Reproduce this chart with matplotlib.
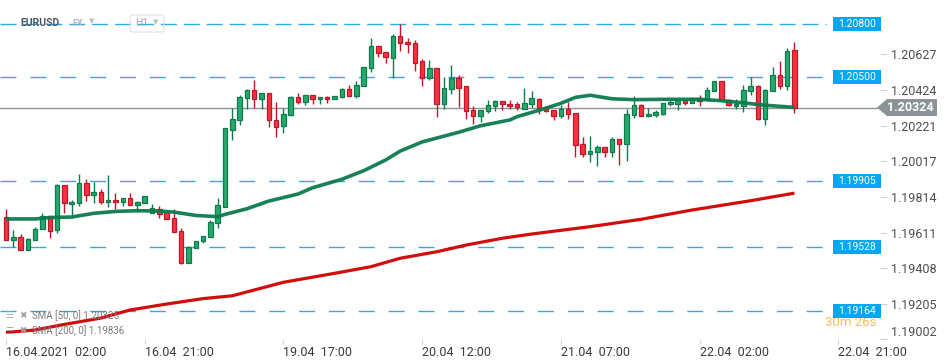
import numpy as np
import matplotlib.pyplot as plt
from matplotlib.patches import Polygon, Rectangle, FancyBboxPatch

plt.rcParams['font.family'] = ['Roboto', 'DejaVu Sans']

# EURUSD H1 candles, first one is 16.04.2021 02:00
opens = [1.19698, 1.19567, 1.19584, 1.19512, 1.19567, 1.19630, 1.19707, 1.19624, 1.19881, 1.19772,
         1.19778, 1.19892, 1.19824, 1.19841, 1.19784, 1.19795, 1.19784, 1.19807, 1.19767, 1.19778,
         1.19721, 1.19744, 1.19727, 1.19693, 1.19618, 1.19436, 1.19522, 1.19561, 1.19584, 1.19664,
         1.19755, 1.20194, 1.20251, 1.20377, 1.20422, 1.20371, 1.20405, 1.20251, 1.20217, 1.20280,
         1.20382, 1.20354, 1.20394, 1.20371, 1.20382, 1.20371, 1.20382, 1.20428, 1.20388, 1.20445,
         1.20548, 1.20673, 1.20639, 1.20605, 1.20730, 1.20696, 1.20690, 1.20588, 1.20491, 1.20548,
         1.20342, 1.20428, 1.20491, 1.20445, 1.20308, 1.20274, 1.20303, 1.20331, 1.20359, 1.20342,
         1.20342, 1.20314, 1.20342, 1.20371, 1.20325, 1.20308, 1.20274, 1.20314, 1.20291, 1.20114,
         1.20057, 1.20069, 1.20097, 1.20069, 1.20143, 1.20114, 1.20280, 1.20337, 1.20274, 1.20280,
         1.20286, 1.20342, 1.20342, 1.20365, 1.20348, 1.20377, 1.20365, 1.20417, 1.20474, 1.20365,
         1.20331, 1.20331, 1.20417, 1.20445, 1.20257, 1.20417, 1.20508, 1.20445, 1.20650]
highs = [1.19746, 1.19626, 1.19601, 1.19579, 1.19641, 1.19721, 1.19707, 1.19888, 1.19881, 1.19797,
         1.19945, 1.19915, 1.19900, 1.19858, 1.19940, 1.19837, 1.19807, 1.19837, 1.19789, 1.19818,
         1.19772, 1.19761, 1.19727, 1.19744, 1.19636, 1.19535, 1.19561, 1.19590, 1.19681, 1.19807,
         1.20206, 1.20320, 1.20394, 1.20428, 1.20479, 1.20405, 1.20405, 1.20354, 1.20320, 1.20388,
         1.20405, 1.20394, 1.20394, 1.20382, 1.20388, 1.20388, 1.20434, 1.20451, 1.20474, 1.20553,
         1.20719, 1.20673, 1.20639, 1.20742, 1.20799, 1.20719, 1.20707, 1.20599, 1.20593, 1.20548,
         1.20496, 1.20565, 1.20508, 1.20445, 1.20331, 1.20308, 1.20365, 1.20365, 1.20359, 1.20365,
         1.20354, 1.20434, 1.20417, 1.20377, 1.20325, 1.20308, 1.20337, 1.20354, 1.20291, 1.20154,
         1.20160, 1.20109, 1.20097, 1.20154, 1.20143, 1.20314, 1.20388, 1.20342, 1.20320, 1.20308,
         1.20348, 1.20365, 1.20365, 1.20365, 1.20377, 1.20394, 1.20439, 1.20474, 1.20474, 1.20371,
         1.20371, 1.20451, 1.20496, 1.20451, 1.20428, 1.20553, 1.20588, 1.20662, 1.20696]
lows = [1.19567, 1.19531, 1.19512, 1.19512, 1.19567, 1.19630, 1.19582, 1.19607, 1.19725, 1.19693,
        1.19765, 1.19793, 1.19778, 1.19772, 1.19755, 1.19747, 1.19761, 1.19767, 1.19727, 1.19778,
        1.19721, 1.19696, 1.19687, 1.19613, 1.19430, 1.19436, 1.19522, 1.19554, 1.19584, 1.19636,
        1.19755, 1.20137, 1.20223, 1.20314, 1.20320, 1.20314, 1.20211, 1.20154, 1.20177, 1.20274,
        1.20342, 1.20337, 1.20342, 1.20342, 1.20348, 1.20371, 1.20377, 1.20388, 1.20377, 1.20445,
        1.20525, 1.20610, 1.20576, 1.20491, 1.20645, 1.20633, 1.20531, 1.20445, 1.20479, 1.20268,
        1.20314, 1.20399, 1.20325, 1.20257, 1.20228, 1.20240, 1.20291, 1.20303, 1.20308, 1.20314,
        1.20308, 1.20314, 1.20320, 1.20286, 1.20297, 1.20251, 1.20263, 1.20257, 1.20040, 1.20040,
        1.20012, 1.19989, 1.20040, 1.20040, 1.19995, 1.20017, 1.20263, 1.20274, 1.20268, 1.20268,
        1.20280, 1.20331, 1.20308, 1.20337, 1.20348, 1.20331, 1.20365, 1.20417, 1.20365, 1.20331,
        1.20314, 1.20297, 1.20394, 1.20251, 1.20223, 1.20417, 1.20428, 1.20422, 1.20291]
closes = [1.19567, 1.19584, 1.19512, 1.19573, 1.19633, 1.19707, 1.19618, 1.19881, 1.19778, 1.19784,
          1.19892, 1.19824, 1.19841, 1.19784, 1.19795, 1.19784, 1.19807, 1.19767, 1.19784, 1.19818,
          1.19750, 1.19716, 1.19687, 1.19613, 1.19436, 1.19527, 1.19561, 1.19590, 1.19670, 1.19767,
          1.20206, 1.20257, 1.20382, 1.20422, 1.20371, 1.20405, 1.20251, 1.20211, 1.20286, 1.20382,
          1.20354, 1.20394, 1.20371, 1.20382, 1.20371, 1.20388, 1.20428, 1.20388, 1.20451, 1.20553,
          1.20673, 1.20633, 1.20610, 1.20730, 1.20690, 1.20685, 1.20576, 1.20491, 1.20548, 1.20342,
          1.20434, 1.20491, 1.20434, 1.20303, 1.20274, 1.20308, 1.20337, 1.20359, 1.20342, 1.20331,
          1.20325, 1.20348, 1.20377, 1.20320, 1.20303, 1.20274, 1.20314, 1.20286, 1.20109, 1.20057,
          1.20075, 1.20097, 1.20069, 1.20143, 1.20114, 1.20286, 1.20337, 1.20274, 1.20286, 1.20297,
          1.20348, 1.20354, 1.20365, 1.20348, 1.20377, 1.20359, 1.20422, 1.20474, 1.20365, 1.20337,
          1.20342, 1.20422, 1.20445, 1.20257, 1.20422, 1.20508, 1.20445, 1.20645, 1.20324]

# moving averages (candle index, value)
sma50_idx = [0, 4, 6, 9, 12, 15, 18, 21, 23, 26, 29, 30, 33, 36, 40, 42, 46, 49, 52, 54,
             57, 62, 65, 69, 70, 73, 76, 78, 80, 83, 86, 90, 95, 98, 101, 104, 106, 108]
sma50_val = [1.19689, 1.19689, 1.19697, 1.19700, 1.19721, 1.19732, 1.19736, 1.19734, 1.19728, 1.19709,
             1.19702, 1.19715, 1.19747, 1.19791, 1.19831, 1.19867, 1.19915, 1.19964, 1.20025, 1.20076,
             1.20128, 1.20183, 1.20220, 1.20253, 1.20272, 1.20308, 1.20348, 1.20382, 1.20394, 1.20374,
             1.20369, 1.20371, 1.20371, 1.20363, 1.20351, 1.20337, 1.20331, 1.20325]
sma200_idx = [0, 4, 8, 13, 17, 22, 27, 31, 34, 38, 45, 50, 54, 59, 63, 68, 72, 80, 87, 94, 102, 108]
sma200_val = [1.19042, 1.19056, 1.19088, 1.19124, 1.19170, 1.19204, 1.19235, 1.19251, 1.19284, 1.19328,
              1.19379, 1.19417, 1.19465, 1.19502, 1.19540, 1.19579, 1.19603, 1.19645, 1.19687, 1.19740,
              1.19793, 1.19836]

levels = [1.20800, 1.20500, 1.19905, 1.19528, 1.19164]
last_price = 1.20324
yticks = [1.20627, 1.20424, 1.20221, 1.20017, 1.19814, 1.19611, 1.19408, 1.19205, 1.19002]
xtick_idx = [0, 19, 38, 57, 76, 95, 114]
xtick_labels = ['16.04.2021  02:00', '16.04  21:00', '19.04  17:00', '20.04  12:00',
                '21.04  07:00', '22.04  02:00', '22.04  21:00']

W, H = 950, 364
fig = plt.figure(figsize=(W / 100, H / 100), dpi=100)
ax = fig.add_axes([0, 24 / H, 887 / W, 340 / H])
ymin, ymax = 1.18999, 1.20937
ax.set_xlim(-0.82, 120.68)
ax.set_ylim(ymin, ymax)
px = (ymax - ymin) / 340  # price per pixel
for s in ax.spines.values():
    s.set_visible(False)

# candles
x = np.arange(len(opens))
o, h, l, c = map(np.array, (opens, highs, lows, closes))
up = c >= o
face = np.where(up, '#26a96c', '#f7323f')
edge = np.where(up, '#0f7a4c', '#c0162a')
ax.vlines(x, l, h, colors=edge, lw=1, zorder=3)
ax.bar(x, np.maximum(np.abs(c - o), px * 1.5), bottom=np.minimum(o, c), width=0.62,
       color=face, edgecolor=edge, lw=0.9, zorder=4)

# moving averages
ax.plot(sma200_idx, sma200_val, color='#d10d0d', lw=2.3, zorder=5, solid_capstyle='butt')
ax.plot(sma50_idx, sma50_val, color='#0b7a4e', lw=2.6, zorder=5, solid_capstyle='butt', alpha=0.95)

# horizontal levels with blue tags
yt = ax.get_yaxis_transform()
for i, lv in enumerate(levels):
    dash = (0, (11.5, 5)) if i == 0 else (0, (11.5, 10))
    ax.axhline(lv, xmin=0, xmax=826 / 887, color='#2eaae6', lw=1, ls=dash, zorder=2)
    ax.add_patch(Rectangle((833 / 887, lv - 7 * px), 48 / 887, 14 * px, transform=yt,
                           facecolor='#08a6ee', edgecolor='none', zorder=7, clip_on=False))
    ax.text(857 / 887, lv, f'{lv:.5f}', transform=yt, ha='center', va='center',
            color='white', fontsize=7.5, zorder=8, clip_on=False)

# countdown to next candle (partly under the tag)
ax.text(851 / 887, 0.05, '30m 26s', transform=ax.transAxes, ha='center', va='center',
        color='#f5a623', alpha=0.75, fontsize=9.5, zorder=6)

# last price line and tag
ax.axhline(last_price, xmin=0, xmax=877 / 887, color='#8c9598', lw=1, zorder=2)
hh = 8.5 * px
tag = Polygon([(877 / 887, last_price), (887 / 887, last_price + hh), (937 / 887, last_price + hh),
               (937 / 887, last_price - hh), (887 / 887, last_price - hh)],
              closed=True, transform=yt, facecolor='#8a9396', edgecolor='none',
              zorder=7, clip_on=False)
ax.add_patch(tag)
ax.text(910 / 887, last_price, f'{last_price:.5f}', transform=yt, ha='center', va='center',
        color='white', fontsize=9, fontweight='bold', zorder=8, clip_on=False)

# axes ticks
ax.yaxis.tick_right()
ax.set_yticks(yticks, [f'{v:.5f}' for v in yticks])
ax.tick_params(axis='y', direction='in', length=5, color='#d0d0d0', labelcolor='#4e4e4e',
               labelsize=9, pad=3)
ax.get_yticklabels()[-1].set_va('bottom')
ax.set_xticks(xtick_idx, xtick_labels)
ax.tick_params(axis='x', direction='out', length=3, color='#d0d0d0', labelcolor='#3a3a3a',
               labelsize=9, pad=1)
for t in ax.get_xticklabels():
    t.set_ha('left')

# top-left instrument legend
def fx(px_x):
    return px_x / W

def fy(px_y):
    return 1 - px_y / H

fig.text(fx(20), fy(23.5), 'EURUSD', ha='left', va='center', fontsize=7.5,
         fontweight='bold', color='#4a575e')
fig.text(fx(72), fy(23.5), 'FX', ha='left', va='center', fontsize=6.5,
         fontweight='bold', color='#b0b8bc')
fig.text(fx(89), fy(22), '\u25bc', ha='left', va='center', fontsize=5, color='#b8c0c4')
fig.patches.append(FancyBboxPatch((fx(130), fy(32)), fx(34), 17 / H,
                                  boxstyle='round,pad=0,rounding_size=0.004',
                                  transform=fig.transFigure, facecolor='none',
                                  edgecolor='#dde2e5', lw=0.8))
fig.text(fx(135), fy(23.5), 'H1', ha='left', va='center', fontsize=7.5, color='#9aa5aa')
fig.text(fx(153), fy(22.5), '\u25bc', ha='left', va='center', fontsize=5, color='#b8c0c4')

# indicator legend bottom-left
for yy, name in [(316, 'SMA [50, 0] 1.20325'), (331, 'SMA [200, 0] 1.19836')]:
    fig.text(fx(5), fy(yy), '\u2630', ha='left', va='center', fontsize=6.5, color='#a0a0a0')
    fig.text(fx(19), fy(yy), '\u2716', ha='left', va='center', fontsize=6.5, color='#a0a0a0')
    fig.text(fx(32), fy(yy), name, ha='left', va='center', fontsize=7, color='#7a7a7a')

fig.savefig('out.png', dpi=100, facecolor='white')
